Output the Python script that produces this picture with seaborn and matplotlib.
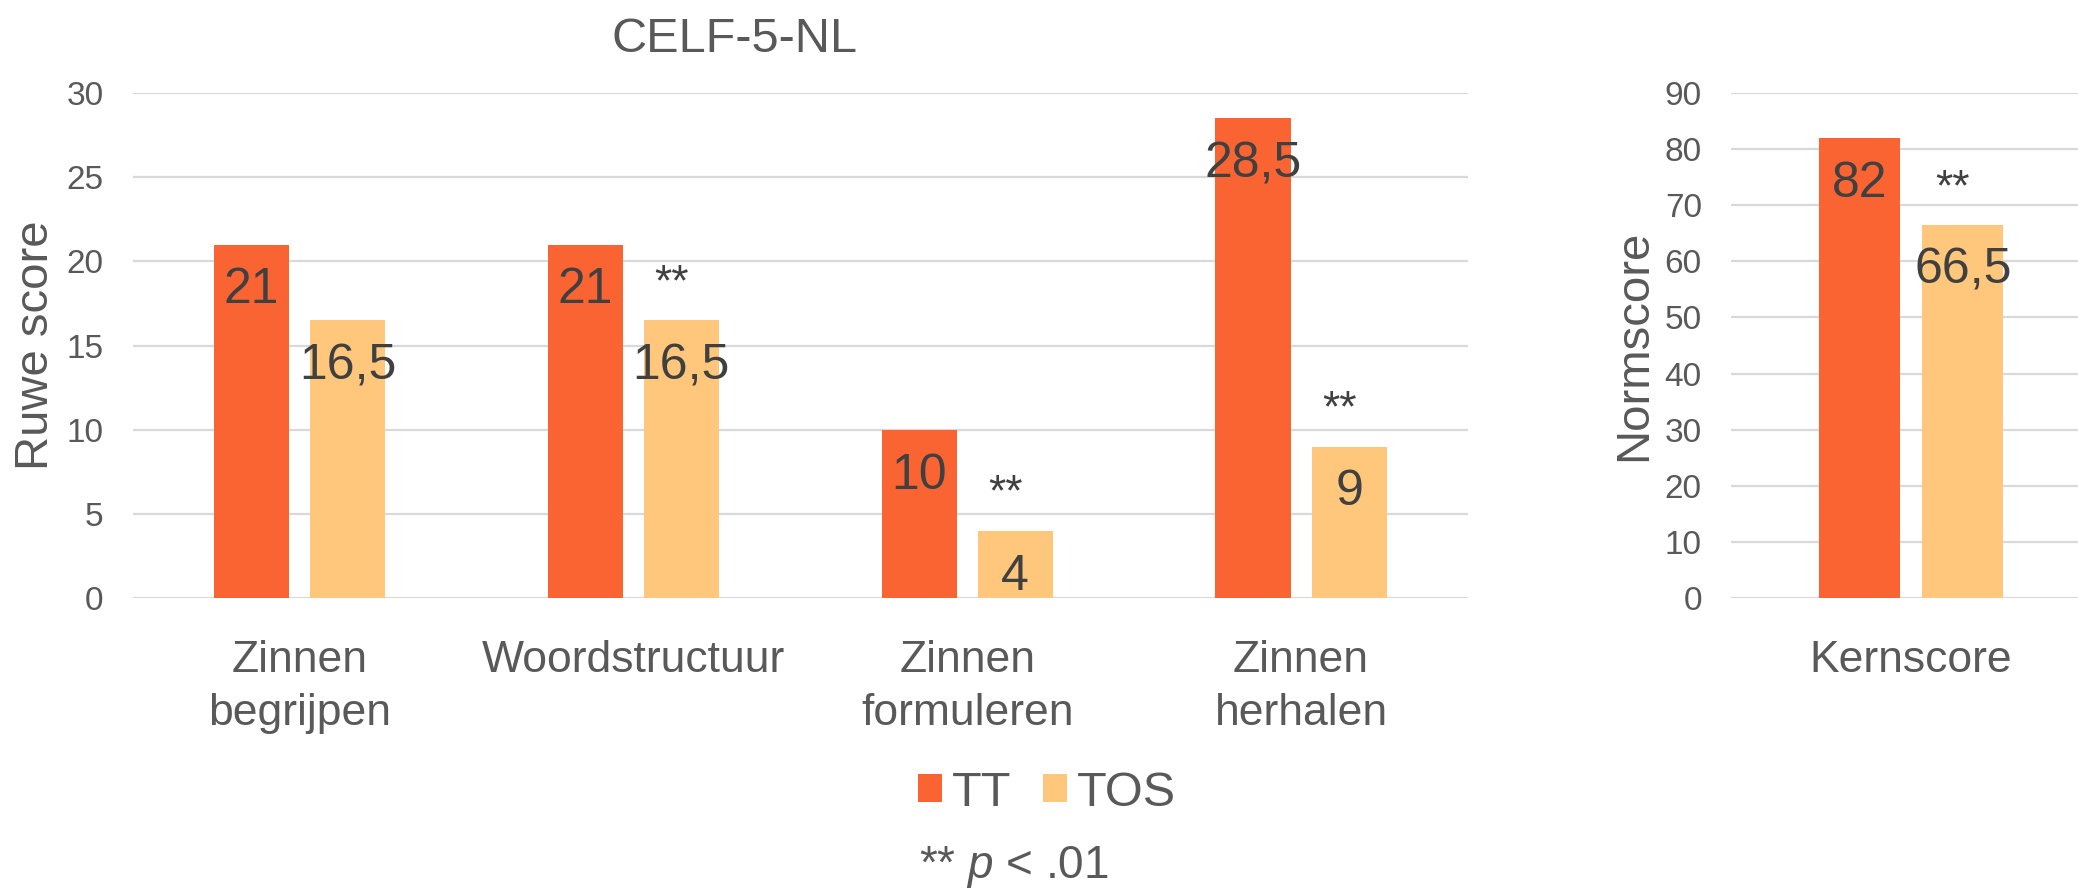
import numpy as np
import pandas as pd
import matplotlib
matplotlib.use("Agg")
import matplotlib.pyplot as plt
import seaborn as sns
from matplotlib.patches import Patch

# ---- data ----
groups = ["TT", "TOS"]
subtests = ["Zinnen\nbegrijpen", "Woordstructuur", "Zinnen\nformuleren", "Zinnen\nherhalen"]
tt_raw = [21, 21, 10, 28.5]
tos_raw = [16.5, 16.5, 4, 9]
sig_raw = [False, True, True, True]

core = ["Kernscore"]
tt_core = [82]
tos_core = [66.5]
sig_core = [True]

raw_ticks = [0, 5, 10, 15, 20, 25, 30]
core_ticks = [0, 10, 20, 30, 40, 50, 60, 70, 80, 90]

colors = {"TT": "#FA6433", "TOS": "#FEC77C"}
grey = "#595959"
dark = "#404040"

plt.rcParams["font.family"] = ["Liberation Sans", "DejaVu Sans"]
plt.rcParams["mathtext.fontset"] = "custom"
plt.rcParams["mathtext.it"] = "Liberation Sans:italic"
plt.rcParams["mathtext.rm"] = "Liberation Sans"

W, H = 2078, 891
fig = plt.figure(figsize=(W / 100, H / 100), dpi=100)

bottom = (H - 598) / H
height = (598 - 93) / H
ax1 = fig.add_axes([132.5 / W, bottom, 1335.5 / W, height])
ax2 = fig.add_axes([1731 / W, bottom, 360 / W, height])


def fmt(v):
    return f"{v:g}".replace(".", ",")


def draw(ax, cats, tt, tos, sig, ticks, ylabel):
    df = pd.DataFrame({
        "cat": list(cats) * 2,
        "group": ["TT"] * len(cats) + ["TOS"] * len(cats),
        "score": list(tt) + list(tos),
    })
    sns.barplot(data=df, x="cat", y="score", hue="group", hue_order=groups,
                palette=colors, width=0.576, gap=0.219, saturation=1,
                errorbar=None, legend=False, ax=ax, order=list(cats))
    ymax = ticks[-1]
    for cont, vals in zip(ax.containers, [tt, tos]):
        for bar, v in zip(cont, vals):
            ax.annotate(fmt(v), (bar.get_x() + bar.get_width() / 2, bar.get_height()),
                        xytext=(0, -33), textcoords="offset points",
                        ha="center", va="center", fontsize=36, color=dark)
    for bar, s, v in zip(ax.containers[1], sig, tos):
        if s:
            ax.text(bar.get_x() + bar.get_width() / 2 - 0.03, v + 0.072 * ymax, "**",
                    ha="center", va="center", fontsize=32, color=dark)
    ax.set_ylim(0, ymax)
    ax.set_yticks(ticks)
    ax.set_xlim(-0.5, len(cats) - 0.5)
    ax.yaxis.grid(True, color="#D9D9D9", lw=1.6)
    ax.xaxis.grid(False)
    ax.set_axisbelow(True)
    for sp in ax.spines.values():
        sp.set_visible(False)
    ax.tick_params(axis="y", length=0, pad=21, labelsize=24, labelcolor=grey)
    ax.tick_params(axis="x", length=0, pad=30, labelsize=32, labelcolor=grey)
    for lab in ax.get_xticklabels():
        lab.set_linespacing(1.38)
    ax.set_xlabel("")
    ax.set_ylabel(ylabel, fontsize=34, color=grey, labelpad=6)


draw(ax1, subtests, tt_raw, tos_raw, sig_raw, raw_ticks, "Ruwe score")
draw(ax2, core, tt_core, tos_core, sig_core, core_ticks, "Normscore")

fig.text(734 / W, 1 - 40 / H, "CELF-5-NL", ha="center", va="center", fontsize=35, color=grey)

handles = [Patch(facecolor=colors[g], edgecolor="none", label=g) for g in groups]
fig.legend(handles=handles, loc="center", bbox_to_anchor=(1047 / W, 1 - 793 / H), ncol=2,
           frameon=False, fontsize=35, handlelength=0.5, handleheight=0.5,
           handletextpad=0.2, columnspacing=0.64, labelcolor=grey)

fig.text(1014 / W, 1 - 867 / H, r"** $\it{p}$ < .01", ha="center", va="center",
         fontsize=33, color=grey)

fig.savefig("out.png", dpi=100)
